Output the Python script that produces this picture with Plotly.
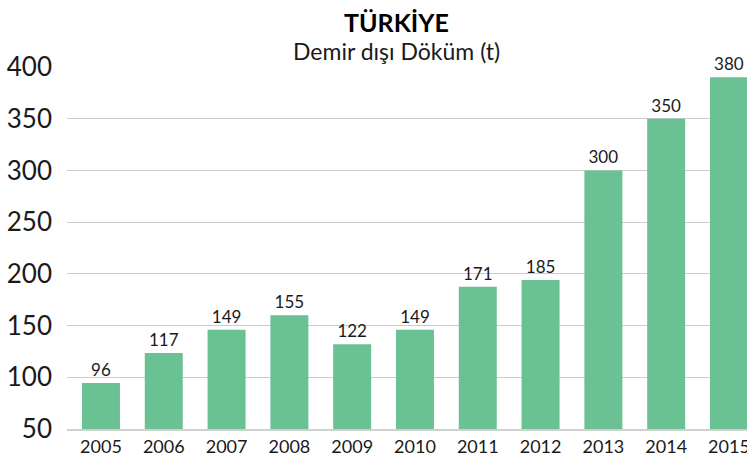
import plotly.graph_objects as go

years = ['2005', '2006', '2007', '2008', '2009', '2010', '2011', '2012', '2013', '2014', '2015']
# bar heights as drawn in the source chart
bar_values = [94.5, 123.5, 146, 160, 132, 146, 187.5, 194, 300, 350, 390]
# numbers printed above the bars
bar_labels = ['96', '117', '149', '155', '122', '149', '171', '185', '300', '350', '380']
y_ticks = [50, 100, 150, 200, 250, 300, 350, 400]

FONT = 'Lato'
TEXT = '#1a1a1a'


def build_fig():
    fig = go.Figure()
    fig.add_trace(go.Bar(
        x=list(range(len(years))),
        y=bar_values,
        text=bar_labels,
        textposition='outside',
        textfont=dict(size=17, color=TEXT, family=FONT),
        cliponaxis=False,
        marker_color='#6AC294',
        marker_line_width=0,
        width=0.605,
        hoverinfo='skip',
    ))

    fig.update_layout(
        width=747, height=460,
        margin=dict(l=67, r=0, t=67, b=31, autoexpand=False),
        paper_bgcolor='white', plot_bgcolor='white',
        showlegend=False,
        font=dict(family=FONT, color=TEXT),
        xaxis=dict(
            range=[-0.541, 10.287],
            tickvals=list(range(len(years))),
            ticktext=years,
            tickfont=dict(size=18, color=TEXT),
            ticklabeloverflow='allow',
            automargin=False,
            showgrid=False, zeroline=False,
            showline=True, linecolor='#d0d0d0', linewidth=2,
            ticks='',
        ),
        yaxis=dict(
            range=[50, 400],
            tickvals=y_ticks,
            tickfont=dict(size=26, color=TEXT),
            automargin=False,
            showgrid=True, gridcolor='#cccccc', gridwidth=1,
            zeroline=False, showline=False, ticks='',
            ticklabelstandoff=14,
        ),
        annotations=[
            dict(text='<b>TÜRKİYE</b>', x=362 / 747, y=1, xref='paper', yref='paper',
                 yanchor='top', xanchor='center', showarrow=False,
                 yshift=67 - 5, font=dict(size=25, color='#000000', family=FONT)),
            dict(text='Demir dışı Döküm (t)', x=362 / 747, y=1, xref='paper', yref='paper',
                 yanchor='top', xanchor='center', showarrow=False,
                 yshift=67 - 35, font=dict(size=23, color=TEXT, family=FONT)),
        ],
    )
    return fig


fig = build_fig()
fig.write_html("out.html", config={'displayModeBar': False},
               post_script="document.body.style.margin='0';")
